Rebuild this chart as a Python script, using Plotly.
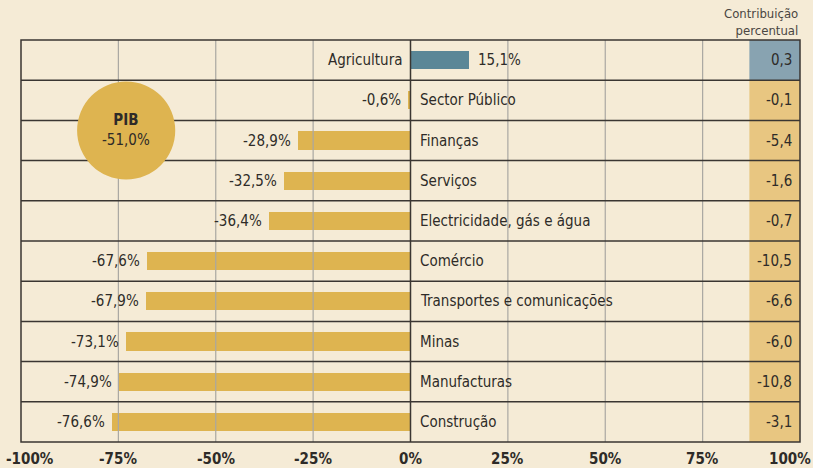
import plotly.graph_objects as go

categories = ["Agricultura", "Sector Público", "Finanças", "Serviços",
              "Electricidade, gás e água", "Comércio", "Transportes e comunicações",
              "Minas", "Manufacturas", "Construção"]
growth = [15.1, -0.6, -28.9, -32.5, -36.4, -67.6, -67.9, -73.1, -74.9, -76.6]
contribution = [0.3, -0.1, -5.4, -1.6, -0.7, -10.5, -6.6, -6.0, -10.8, -3.1]
pib_value = -51.0
tick_vals = [-100, -75, -50, -25, 0, 25, 50, 75, 100]
tick_text = ["-100%", "-75%", "-50%", "-25%", "0%", "25%", "50%", "75%", "100%"]

BG = "#F5EBD6"
GOLD = "#DEB450"
BLUE = "#5B8797"
BAND_GOLD = "#E8C681"
BAND_BLUE = "#88A3B1"
DARK = "#3A3632"
GRID = "#A9A7A2"
TXT = "#2E2B28"
FONT = "Liberation Sans Narrow, DejaVu Sans Condensed, Roboto Condensed, Arial Narrow, Liberation Sans, sans-serif"

def fmt(v, pct=True):
    s = f"{v:.1f}".replace(".", ",")
    return s + ("%" if pct else "")

n = len(categories)
ypos = list(range(n))
colors = [BLUE if v > 0 else GOLD for v in growth]

fig = go.Figure()
fig.add_trace(go.Bar(x=growth, y=ypos, orientation="h", marker=dict(color=colors, line=dict(width=0)),
                     width=0.45, hoverinfo="skip"))

shapes = []
# contribution band
band_x0 = 87
for i, c in enumerate(contribution):
    shapes.append(dict(type="rect", xref="x", yref="y", x0=band_x0, x1=100, y0=i - 0.5, y1=i + 0.5,
                       fillcolor=BAND_BLUE if c > 0 else BAND_GOLD, line=dict(width=0), layer="below"))
# vertical grid lines above traces
for t in tick_vals:
    if t in (-100, 0, 100):
        continue
    shapes.append(dict(type="line", xref="x", yref="paper", x0=t, x1=t, y0=0, y1=1,
                       line=dict(color=GRID, width=1.2), layer="above"))
# row separators
for i in range(n - 1):
    shapes.append(dict(type="line", xref="paper", yref="y", x0=0, x1=1, y0=i + 0.5, y1=i + 0.5,
                       line=dict(color=DARK, width=1.5), layer="above"))
# zero line
shapes.append(dict(type="line", xref="x", yref="paper", x0=0, x1=0, y0=0, y1=1,
                   line=dict(color=DARK, width=1.5), layer="above"))
# border
shapes.append(dict(type="rect", xref="paper", yref="paper", x0=0, x1=1, y0=0, y1=1,
                   line=dict(color=DARK, width=1.5), layer="above"))
# PIB circle
cx, cy, rx, ry = -73.0, 1.75, 12.6, 1.22
shapes.append(dict(type="circle", xref="x", yref="y", x0=cx - rx, x1=cx + rx, y0=cy - ry, y1=cy + ry,
                   fillcolor=GOLD, line=dict(width=0), layer="above"))

ann = []
for i, (cat, v, c) in enumerate(zip(categories, growth, contribution)):
    if v >= 0:
        ann.append(dict(x=0, y=i, text=cat, xanchor="right", xshift=-7, showarrow=False))
        ann.append(dict(x=v, y=i, text=fmt(v), xanchor="left", xshift=7, showarrow=False))
    else:
        ann.append(dict(x=0, y=i, text=cat, xanchor="left", xshift=7, showarrow=False))
        ann.append(dict(x=v, y=i, text=fmt(v), xanchor="right", xshift=-5, showarrow=False))
    ann.append(dict(x=100, y=i, text=fmt(c, pct=False), xanchor="right", xshift=-6, showarrow=False))

ann.append(dict(x=cx, y=cy, text="<b>PIB</b><br>" + fmt(pib_value), showarrow=False,
                font=dict(size=15, color=TXT), align="center"))
ann.append(dict(x=1, y=1, xref="paper", yref="paper", text="Contribuição<br>percentual",
                xanchor="right", yanchor="bottom", yshift=0, xshift=0, align="right", showarrow=False,
                font=dict(size=13, color="#4A4642")))

for t, lab in zip(tick_vals, tick_text):
    if t == -100:
        xa, xs = "left", -17
    elif t == 100:
        xa, xs = "right", 13
    else:
        xa, xs = "center", 0
    ann.append(dict(x=t, y=0, xref="x", yref="paper", text=f"<b>{lab}</b>", xanchor=xa, xshift=xs,
                    yanchor="top", yshift=-6, showarrow=False, font=dict(size=15, color=TXT)))

fig.update_layout(
    width=813, height=468,
    margin=dict(l=21, r=13, t=40, b=26),
    paper_bgcolor=BG, plot_bgcolor=BG,
    font=dict(family=FONT, size=15, color=TXT),
    showlegend=False,
    shapes=shapes,
    annotations=ann,
    xaxis=dict(range=[-100, 100], showgrid=False, zeroline=False, showticklabels=False, fixedrange=True),
    yaxis=dict(range=[n - 0.5, -0.5], showgrid=False, zeroline=False, showticklabels=False, fixedrange=True),
    bargap=0,
)

fig.write_html("out.html", config={"displayModeBar": False},
               post_script="document.body.style.margin='0';document.body.style.overflow='hidden';")
